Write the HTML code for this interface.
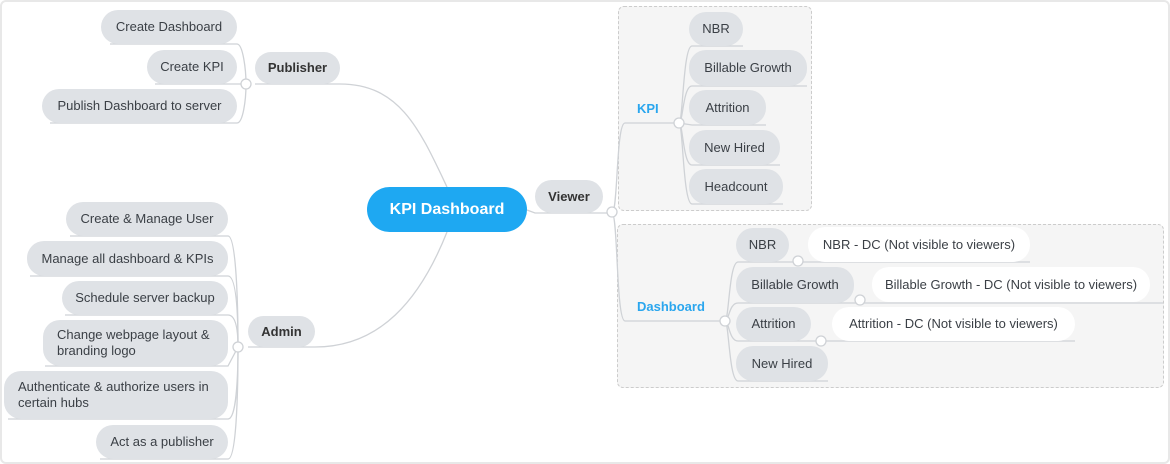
<!DOCTYPE html>
<html><head><meta charset="utf-8"><style>
html,body{margin:0;padding:0;background:#fff}
#c{position:relative;width:1170px;height:464px;overflow:hidden;font-family:"Liberation Sans",sans-serif;}
.n{position:absolute;background:#dfe2e6;border-radius:17px;color:#3a3f45;font-size:13px;display:flex;align-items:center;justify-content:center;text-align:center;line-height:16px;box-sizing:border-box}
.w{background:#fff;}
.b{font-weight:bold;color:#333}
.box{position:absolute;border:1px dashed #ccc;border-radius:6px;background:#f5f5f5;box-sizing:border-box}
.lb{position:absolute;color:#2aa6ee;font-weight:bold;font-size:13px}
svg{position:absolute;left:0;top:0}
</style></head><body><div id="c">
<div style="position:absolute;left:0;top:0;width:1170px;height:464px;border:2px solid #e8e8e8;box-sizing:border-box;border-radius:6px"></div>
<div class="box" style="left:618px;top:6px;width:194px;height:205px"></div>
<div class="box" style="left:617px;top:224px;width:547px;height:164px"></div>
<svg width="1170" height="464" fill="none" stroke="#cfd2d6" stroke-width="1.3">
<path d="M527 210 L535 213 L603 213"/>
<path d="M255 84 L340 84 C400 84 420 130 447 187"/>
<path d="M248 347 L315 347 C380 347 420 300 447 232"/>
<path d="M110 44 L237 44 C243 44 246 70 246 84 C246 100 243 123 237 123 L50 123"/>
<path d="M155 84 L246 84"/>
<path d="M238 347 C238 300 236 236 228 236 L70 236"/>
<path d="M238 347 C238 310 236 276 228 276 L30 276"/>
<path d="M238 347 C238 330 236 315 228 315 L65 315"/>
<path d="M238 347 L228 366 L45 366"/>
<path d="M238 347 C238 380 236 419 228 419 L8 419"/>
<path d="M238 347 C238 400 236 459 228 459 L100 459"/>
<path d="M603 213 L612 213 C618 213 616 123 625 123 L679 123"/>
<path d="M612 213 C618 213 616 321 625 321 L725 321"/>
<path d="M679 123 C683 123 683 46 692 46 L743 46"/>
<path d="M679 123 C683 123 683 86 692 86 L807 86"/>
<path d="M679 123 L692 125 L766 125"/>
<path d="M679 123 C683 123 683 165 692 165 L780 165"/>
<path d="M679 123 C683 123 683 204 692 204 L783 204"/>
<path d="M725 321 C729 321 729 262 738 262 L1030 262"/>
<path d="M725 321 C729 321 729 303 738 303 L1163 303"/>
<path d="M725 321 C729 321 729 341 738 341 L1075 341"/>
<path d="M725 321 C729 321 729 381 738 381 L828 381"/>
</svg>
<div class="n" style="left:101px;top:10px;width:136px;height:34px">Create Dashboard</div>
<div class="n" style="left:147px;top:50px;width:90px;height:34px">Create KPI</div>
<div class="n" style="left:42px;top:89px;width:195px;height:34px">Publish Dashboard to server</div>
<div class="n b" style="left:255px;top:52px;width:85px;height:32px">Publisher</div>
<div class="n" style="left:367px;top:187px;width:160px;height:45px;border-radius:23px;background:#1ea8f2;color:#fff;font-weight:bold;font-size:16px">KPI Dashboard</div>
<div class="n b" style="left:535px;top:180px;width:68px;height:33px">Viewer</div>
<div class="n b" style="left:248px;top:316px;width:67px;height:31px">Admin</div>
<div class="n" style="left:66px;top:202px;width:162px;height:34px">Create &amp; Manage User</div>
<div class="n" style="left:27px;top:241px;width:201px;height:35px">Manage all dashboard &amp; KPIs</div>
<div class="n" style="left:62px;top:281px;width:166px;height:34px">Schedule server backup</div>
<div class="n" style="left:43px;top:320px;width:185px;height:46px;text-align:left;justify-content:flex-start;padding-left:14px">Change webpage layout &amp;<br>branding logo</div>
<div class="n" style="left:4px;top:371px;width:224px;height:48px;text-align:left;justify-content:flex-start;padding-left:14px">Authenticate &amp; authorize users in<br>certain hubs</div>
<div class="n" style="left:96px;top:425px;width:132px;height:34px">Act as a publisher</div>
<div class="lb" style="left:637px;top:101px">KPI</div>
<div class="n" style="left:689px;top:12px;width:54px;height:34px">NBR</div>
<div class="n" style="left:689px;top:50px;width:118px;height:36px">Billable Growth</div>
<div class="n" style="left:689px;top:90px;width:77px;height:35px">Attrition</div>
<div class="n" style="left:689px;top:130px;width:91px;height:35px">New Hired</div>
<div class="n" style="left:689px;top:169px;width:94px;height:35px">Headcount</div>
<div class="lb" style="left:637px;top:299px">Dashboard</div>
<div class="n" style="left:736px;top:228px;width:53px;height:34px">NBR</div>
<div class="n" style="left:736px;top:267px;width:118px;height:36px">Billable Growth</div>
<div class="n" style="left:736px;top:307px;width:75px;height:34px">Attrition</div>
<div class="n" style="left:736px;top:346px;width:92px;height:35px">New Hired</div>
<div class="n w" style="left:808px;top:227px;width:222px;height:35px">NBR - DC (Not visible to viewers)</div>
<div class="n w" style="left:872px;top:267px;width:278px;height:35px">Billable Growth - DC (Not visible to viewers)</div>
<div class="n w" style="left:832px;top:307px;width:243px;height:34px">Attrition - DC (Not visible to viewers)</div>
<svg width="1170" height="464" fill="#fff" stroke="#cfd2d6" stroke-width="1.3">
<circle cx="246" cy="84" r="5"/><circle cx="238" cy="347" r="5"/><circle cx="612" cy="212" r="5"/>
<circle cx="679" cy="123" r="5"/><circle cx="725" cy="321" r="5"/>
<circle cx="798" cy="261" r="5"/><circle cx="860" cy="300" r="5"/><circle cx="821" cy="341" r="5"/>
</svg>
</div></body></html>
